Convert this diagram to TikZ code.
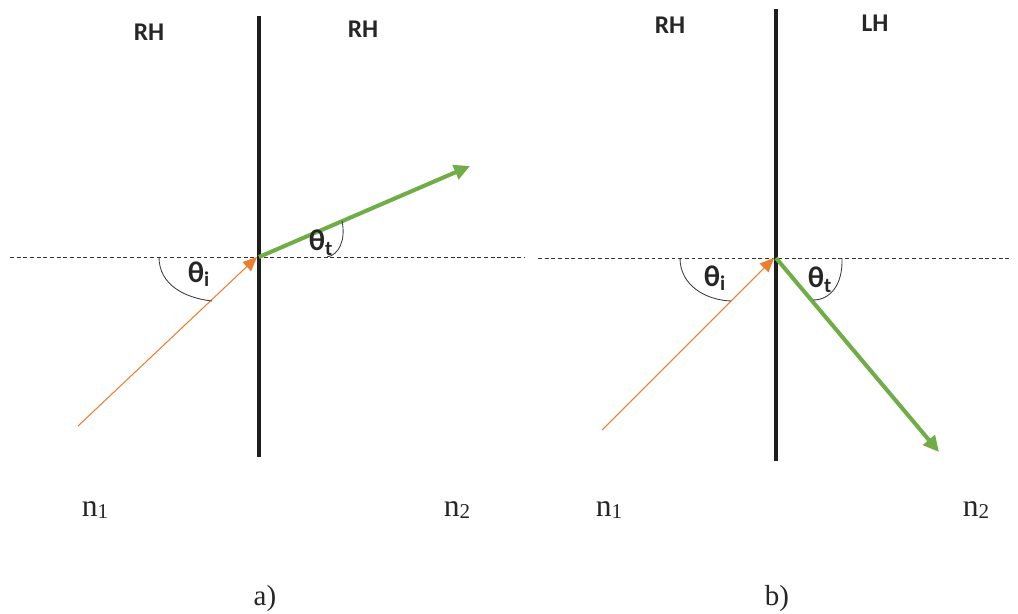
\documentclass[tikz,border=0pt]{standalone}
\usepackage{fontspec}
\setmainfont{Liberation Serif}
\newfontfamily\sidefont{Carlito}
\usepackage{xcolor}
\usetikzlibrary{arrows.meta, positioning, calc}

\definecolor{rayorange}{RGB}{237,125,49}
\definecolor{raygreen}{RGB}{112,173,71}
\definecolor{wallgray}{RGB}{30,30,30}

\newcommand{\idx}[1]{{\fontsize{12}{14}\selectfont\raisebox{-1.2pt}{#1}}}

\begin{document}
\begin{tikzpicture}[
    x=0.02cm, y=-0.02cm,
    wall/.style={line width=2.8pt, wallgray},
    normalline/.style={dashed, dash pattern=on 2.2pt off 1.6pt, line width=0.5pt, black!80},
    rayin/.style={-{Triangle[length=8pt, width=7pt]}, line width=0.6pt, rayorange},
    rayout/.style={-{Triangle[length=9pt, width=8.5pt]}, line width=2.3pt, raygreen},
    anglearc/.style={line width=0.5pt, black!75},
    side/.style={font=\sidefont\bfseries\fontsize{14.5}{16}\selectfont, text=black!85},
    anglelbl/.style={font=\sidefont\bfseries\fontsize{17}{19}\selectfont, text=black!85, inner sep=0pt},
    medium/.style={font=\fontsize{18}{20}\selectfont, text=black!85},
    caption/.style={font=\fontsize{16.5}{18}\selectfont, text=black!85}
]
    \useasboundingbox (0,0) rectangle (1018,613);

    % Panel a: RH -> RH
    \coordinate (Oa) at (259,257);
    \coordinate (Wa1) at (259,16);
    \coordinate (Wa2) at (259,457);
    \coordinate (Na1) at (10,257);
    \coordinate (Na2) at (525,257);
    \coordinate (Ia) at (78,426);
    \coordinate (Ta) at (470,166);
    \draw[normalline] (Na1) -- (Na2);
    \draw[wall] (Wa1) -- (Wa2);
    \draw[rayin] (Ia) -- ($(Oa)+(-2,0)$);
    \draw[rayout] (Oa) -- (Ta);
    \draw[anglearc] (159,257) .. controls (159,285) and (185,298) .. (212,301);
    \draw[anglearc] (342,221) .. controls (346,240) and (339,255) .. (327,257);
    \node[anglelbl] (thia) at (199,274) {θ\textsubscript{i}};
    \node[anglelbl] (thta) at (321,243) {θ\textsubscript{t}};
    \node[side] (lefta) at (149,32) {RH};
    \node[side] (righta) at (363,29) {RH};
    \node[medium] (n1a) at (95,510) {n\idx{1}};
    \node[medium] (n2a) at (457,510) {n\idx{2}};
    \node[caption] (capa) at (265,599) {a)};

    % Panel b: RH -> LH
    \coordinate (Ob) at (776,258);
    \coordinate (Wb1) at (776,9);
    \coordinate (Wb2) at (776,461);
    \coordinate (Nb1) at (538,258);
    \coordinate (Nb2) at (1012,258);
    \coordinate (Ib) at (602,430);
    \coordinate (Tb) at (939,452);
    \draw[normalline] (Nb1) -- (Nb2);
    \draw[wall] (Wb1) -- (Wb2);
    \draw[rayin] (Ib) -- ($(Ob)+(-2,0)$);
    \draw[rayout] (Ob) -- (Tb);
    \draw[anglearc] (680,258) .. controls (680,285) and (705,300) .. (731,301);
    \draw[anglearc] (842,258) .. controls (843,285) and (830,300) .. (813,300);
    \node[anglelbl] (thib) at (715,278) {θ\textsubscript{i}};
    \node[anglelbl] (thtb) at (820,280) {θ\textsubscript{t}};
    \node[side] (leftb) at (670,25) {RH};
    \node[side] (rightb) at (875,23) {LH};
    \node[medium] (n1b) at (609,510) {n\idx{1}};
    \node[medium] (n2b) at (976,510) {n\idx{2}};
    \node[caption] (capb) at (777,599) {b)};
\end{tikzpicture}
\end{document}
